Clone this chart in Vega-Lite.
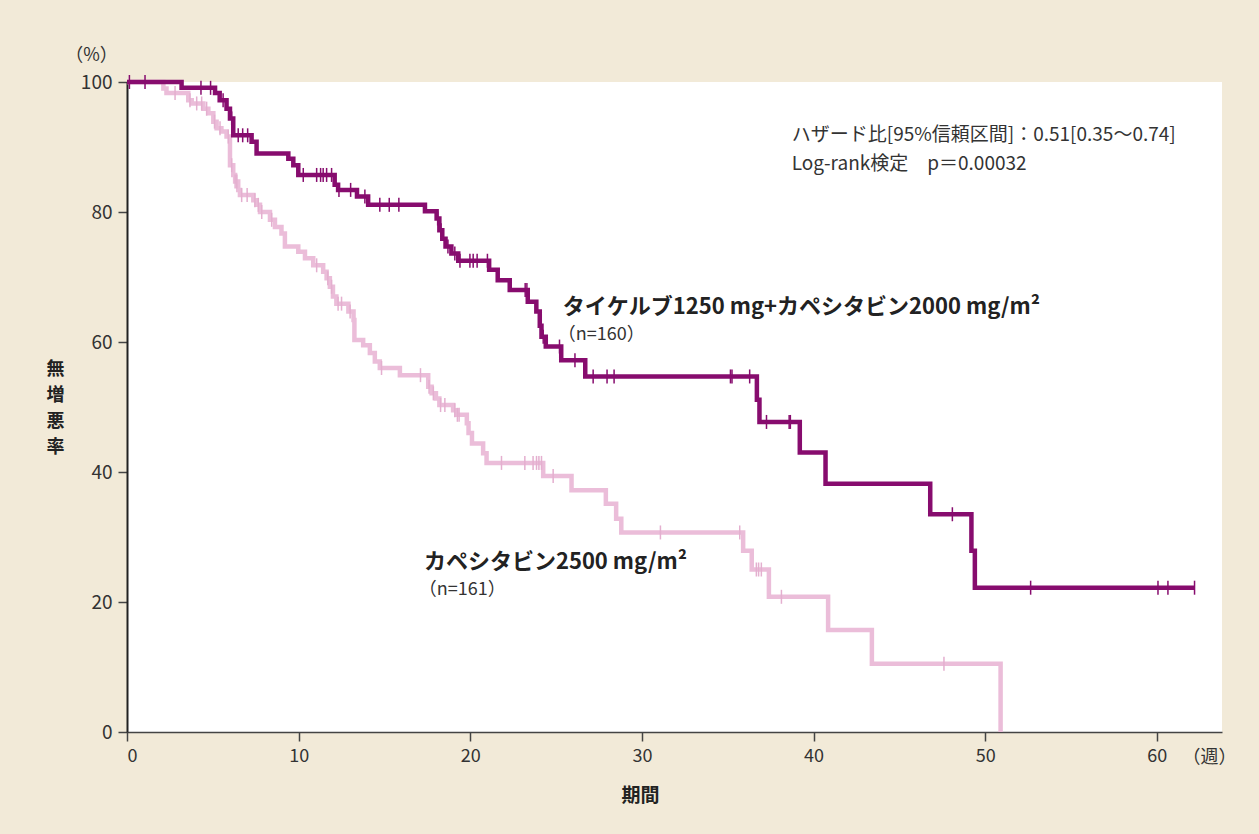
{
  "$schema": "https://vega.github.io/schema/vega-lite/v6.json",
  "width": 1095,
  "height": 650,
  "autosize": "none",
  "padding": {"left": 127, "top": 82, "right": 37, "bottom": 102},
  "background": "#f2ead8",
  "view": {"fill": "white", "stroke": null},
  "config": {"font": "Noto Sans CJK JP"},
  "datasets": {
    "curves": [
      {"arm": "lap", "t": 0, "s": 100}, {"arm": "lap", "t": 3.18, "s": 99.1}, {"arm": "lap", "t": 5.13, "s": 98.3},
      {"arm": "lap", "t": 5.4, "s": 97.2}, {"arm": "lap", "t": 5.8, "s": 95.9}, {"arm": "lap", "t": 6.0, "s": 94.4},
      {"arm": "lap", "t": 6.19, "s": 91.8}, {"arm": "lap", "t": 7.26, "s": 90.8}, {"arm": "lap", "t": 7.55, "s": 89.0},
      {"arm": "lap", "t": 9.4, "s": 88.2}, {"arm": "lap", "t": 9.69, "s": 87.2}, {"arm": "lap", "t": 9.98, "s": 85.7},
      {"arm": "lap", "t": 12.1, "s": 84.2}, {"arm": "lap", "t": 12.3, "s": 83.4}, {"arm": "lap", "t": 13.4, "s": 82.4},
      {"arm": "lap", "t": 14.05, "s": 81.1}, {"arm": "lap", "t": 17.36, "s": 80.1}, {"arm": "lap", "t": 18.04, "s": 79.0},
      {"arm": "lap", "t": 18.2, "s": 77.2}, {"arm": "lap", "t": 18.37, "s": 75.9}, {"arm": "lap", "t": 18.56, "s": 74.7},
      {"arm": "lap", "t": 18.9, "s": 73.6}, {"arm": "lap", "t": 19.3, "s": 72.5}, {"arm": "lap", "t": 21.1, "s": 71.1},
      {"arm": "lap", "t": 21.6, "s": 69.5}, {"arm": "lap", "t": 22.3, "s": 68.0}, {"arm": "lap", "t": 23.35, "s": 66.2},
      {"arm": "lap", "t": 23.85, "s": 64.7}, {"arm": "lap", "t": 24.05, "s": 62.5}, {"arm": "lap", "t": 24.15, "s": 60.8},
      {"arm": "lap", "t": 24.4, "s": 59.3}, {"arm": "lap", "t": 25.3, "s": 57.2}, {"arm": "lap", "t": 26.7, "s": 54.7},
      {"arm": "lap", "t": 36.7, "s": 51.1}, {"arm": "lap", "t": 36.85, "s": 47.7}, {"arm": "lap", "t": 39.2, "s": 43.0},
      {"arm": "lap", "t": 40.7, "s": 38.2}, {"arm": "lap", "t": 46.8, "s": 33.5}, {"arm": "lap", "t": 49.2, "s": 27.9},
      {"arm": "lap", "t": 49.4, "s": 22.2}, {"arm": "lap", "t": 62.2, "s": 22.2},
      {"arm": "cap", "t": 0, "s": 100}, {"arm": "cap", "t": 2.12, "s": 99.0}, {"arm": "cap", "t": 2.3, "s": 98.3},
      {"arm": "cap", "t": 3.57, "s": 97.2}, {"arm": "cap", "t": 3.77, "s": 96.7}, {"arm": "cap", "t": 4.45, "s": 95.9},
      {"arm": "cap", "t": 4.74, "s": 95.2}, {"arm": "cap", "t": 5.03, "s": 93.9}, {"arm": "cap", "t": 5.22, "s": 92.9},
      {"arm": "cap", "t": 5.5, "s": 92.4}, {"arm": "cap", "t": 5.8, "s": 91.6}, {"arm": "cap", "t": 6.0, "s": 87.2},
      {"arm": "cap", "t": 6.19, "s": 85.7}, {"arm": "cap", "t": 6.3, "s": 84.7}, {"arm": "cap", "t": 6.48, "s": 83.4},
      {"arm": "cap", "t": 6.58, "s": 82.6}, {"arm": "cap", "t": 7.36, "s": 81.8}, {"arm": "cap", "t": 7.55, "s": 81.1},
      {"arm": "cap", "t": 7.75, "s": 80.0}, {"arm": "cap", "t": 8.33, "s": 78.8}, {"arm": "cap", "t": 8.62, "s": 77.7},
      {"arm": "cap", "t": 9.0, "s": 76.7}, {"arm": "cap", "t": 9.2, "s": 74.7}, {"arm": "cap", "t": 9.98, "s": 73.9},
      {"arm": "cap", "t": 10.37, "s": 72.9}, {"arm": "cap", "t": 10.85, "s": 71.8}, {"arm": "cap", "t": 11.43, "s": 70.8},
      {"arm": "cap", "t": 11.63, "s": 69.8}, {"arm": "cap", "t": 11.82, "s": 68.5}, {"arm": "cap", "t": 12.0, "s": 67.0},
      {"arm": "cap", "t": 12.2, "s": 65.9}, {"arm": "cap", "t": 12.9, "s": 64.7}, {"arm": "cap", "t": 13.2, "s": 63.4},
      {"arm": "cap", "t": 13.25, "s": 60.3}, {"arm": "cap", "t": 13.76, "s": 59.5}, {"arm": "cap", "t": 14.15, "s": 58.3},
      {"arm": "cap", "t": 14.44, "s": 57.0}, {"arm": "cap", "t": 14.73, "s": 56.0}, {"arm": "cap", "t": 15.9, "s": 54.9},
      {"arm": "cap", "t": 17.55, "s": 53.1}, {"arm": "cap", "t": 17.75, "s": 52.1}, {"arm": "cap", "t": 18.0, "s": 51.3},
      {"arm": "cap", "t": 18.2, "s": 50.3}, {"arm": "cap", "t": 19.0, "s": 49.5}, {"arm": "cap", "t": 19.2, "s": 48.8},
      {"arm": "cap", "t": 19.8, "s": 47.5}, {"arm": "cap", "t": 19.9, "s": 46.0}, {"arm": "cap", "t": 20.1, "s": 44.4},
      {"arm": "cap", "t": 20.75, "s": 42.9}, {"arm": "cap", "t": 20.95, "s": 41.4}, {"arm": "cap", "t": 24.25, "s": 39.4},
      {"arm": "cap", "t": 25.9, "s": 37.2}, {"arm": "cap", "t": 27.9, "s": 35.1}, {"arm": "cap", "t": 28.5, "s": 32.8},
      {"arm": "cap", "t": 28.8, "s": 30.7}, {"arm": "cap", "t": 35.9, "s": 27.9}, {"arm": "cap", "t": 36.4, "s": 25.0},
      {"arm": "cap", "t": 37.4, "s": 20.8}, {"arm": "cap", "t": 40.85, "s": 15.7}, {"arm": "cap", "t": 43.4, "s": 10.5},
      {"arm": "cap", "t": 50.9, "s": 0}
    ],
    "censor": [
      {"arm": "cap", "t": 2.8, "s": 98.3}, {"arm": "cap", "t": 3.67, "s": 97.2}, {"arm": "cap", "t": 4.06, "s": 96.7},
      {"arm": "cap", "t": 4.35, "s": 96.7}, {"arm": "cap", "t": 4.64, "s": 95.9}, {"arm": "cap", "t": 5.1, "s": 93.9},
      {"arm": "cap", "t": 5.42, "s": 92.9}, {"arm": "cap", "t": 5.9, "s": 91.6}, {"arm": "cap", "t": 6.1, "s": 87.2},
      {"arm": "cap", "t": 6.3, "s": 84.7}, {"arm": "cap", "t": 6.4, "s": 84.7}, {"arm": "cap", "t": 6.68, "s": 82.6},
      {"arm": "cap", "t": 7.0, "s": 82.6}, {"arm": "cap", "t": 7.45, "s": 81.8}, {"arm": "cap", "t": 7.65, "s": 81.1},
      {"arm": "cap", "t": 7.85, "s": 80.0}, {"arm": "cap", "t": 8.43, "s": 78.8}, {"arm": "cap", "t": 11.05, "s": 71.8},
      {"arm": "cap", "t": 11.7, "s": 69.8}, {"arm": "cap", "t": 11.92, "s": 68.5}, {"arm": "cap", "t": 12.3, "s": 65.9},
      {"arm": "cap", "t": 12.5, "s": 65.9}, {"arm": "cap", "t": 13.0, "s": 64.7}, {"arm": "cap", "t": 14.83, "s": 56.0},
      {"arm": "cap", "t": 17.1, "s": 54.9}, {"arm": "cap", "t": 17.6, "s": 53.1}, {"arm": "cap", "t": 17.85, "s": 52.1},
      {"arm": "cap", "t": 18.27, "s": 50.3}, {"arm": "cap", "t": 18.52, "s": 50.3}, {"arm": "cap", "t": 19.1, "s": 49.5},
      {"arm": "cap", "t": 19.25, "s": 48.8}, {"arm": "cap", "t": 19.35, "s": 48.8}, {"arm": "cap", "t": 21.82, "s": 41.4},
      {"arm": "cap", "t": 23.18, "s": 41.4}, {"arm": "cap", "t": 23.66, "s": 41.4}, {"arm": "cap", "t": 23.86, "s": 41.4},
      {"arm": "cap", "t": 24.0, "s": 41.4}, {"arm": "cap", "t": 24.15, "s": 41.4}, {"arm": "cap", "t": 24.83, "s": 39.4},
      {"arm": "cap", "t": 31.08, "s": 30.7}, {"arm": "cap", "t": 35.7, "s": 30.7}, {"arm": "cap", "t": 36.67, "s": 25.0},
      {"arm": "cap", "t": 36.8, "s": 25.0}, {"arm": "cap", "t": 36.96, "s": 25.0}, {"arm": "cap", "t": 38.13, "s": 20.8},
      {"arm": "cap", "t": 47.6, "s": 10.5},
      {"arm": "lap", "t": 0.14, "s": 100}, {"arm": "lap", "t": 1.05, "s": 100}, {"arm": "lap", "t": 4.31, "s": 99.1},
      {"arm": "lap", "t": 4.87, "s": 99.1}, {"arm": "lap", "t": 5.6, "s": 97.2}, {"arm": "lap", "t": 6.1, "s": 94.4},
      {"arm": "lap", "t": 6.48, "s": 91.8}, {"arm": "lap", "t": 6.74, "s": 91.8}, {"arm": "lap", "t": 7.03, "s": 91.8},
      {"arm": "lap", "t": 10.27, "s": 85.7}, {"arm": "lap", "t": 11.05, "s": 85.7}, {"arm": "lap", "t": 11.28, "s": 85.7},
      {"arm": "lap", "t": 11.43, "s": 85.7}, {"arm": "lap", "t": 11.63, "s": 85.7}, {"arm": "lap", "t": 11.92, "s": 85.7},
      {"arm": "lap", "t": 12.35, "s": 83.4}, {"arm": "lap", "t": 13.03, "s": 83.4}, {"arm": "lap", "t": 13.86, "s": 82.4},
      {"arm": "lap", "t": 14.73, "s": 81.1}, {"arm": "lap", "t": 15.28, "s": 81.1}, {"arm": "lap", "t": 15.84, "s": 81.1},
      {"arm": "lap", "t": 18.1, "s": 79.0}, {"arm": "lap", "t": 18.3, "s": 77.2}, {"arm": "lap", "t": 18.7, "s": 74.7},
      {"arm": "lap", "t": 19.1, "s": 73.6}, {"arm": "lap", "t": 19.4, "s": 72.5}, {"arm": "lap", "t": 19.98, "s": 72.5},
      {"arm": "lap", "t": 20.17, "s": 72.5}, {"arm": "lap", "t": 20.4, "s": 72.5}, {"arm": "lap", "t": 21.0, "s": 72.5},
      {"arm": "lap", "t": 23.2, "s": 68.0}, {"arm": "lap", "t": 23.3, "s": 68.0}, {"arm": "lap", "t": 24.25, "s": 60.8},
      {"arm": "lap", "t": 25.2, "s": 59.3}, {"arm": "lap", "t": 26.1, "s": 57.2}, {"arm": "lap", "t": 27.16, "s": 54.7},
      {"arm": "lap", "t": 27.97, "s": 54.7}, {"arm": "lap", "t": 28.38, "s": 54.7}, {"arm": "lap", "t": 35.16, "s": 54.7},
      {"arm": "lap", "t": 35.25, "s": 54.7}, {"arm": "lap", "t": 36.28, "s": 54.7}, {"arm": "lap", "t": 37.26, "s": 47.7},
      {"arm": "lap", "t": 38.58, "s": 47.7}, {"arm": "lap", "t": 38.65, "s": 47.7}, {"arm": "lap", "t": 48.09, "s": 33.5},
      {"arm": "lap", "t": 52.65, "s": 22.2}, {"arm": "lap", "t": 60.07, "s": 22.2}, {"arm": "lap", "t": 60.65, "s": 22.2},
      {"arm": "lap", "t": 62.2, "s": 22.2}
    ],
    "labels": [
      {"t": 25.39, "s": 65.4, "text": "タイケルブ1250 mg+カペシタビン2000 mg/m²", "kind": "bold"},
      {"t": 25.1, "s": 61.1, "text": "（n=160）", "kind": "small"},
      {"t": 17.3, "s": 26.15, "text": "カペシタビン2500 mg/m²", "kind": "bold"},
      {"t": 17.0, "s": 21.85, "text": "（n=161）", "kind": "small"},
      {"t": 38.73, "s": 91.8, "text": "ハザード比[95%信頼区間]：0.51[0.35〜0.74]", "kind": "plain"},
      {"t": 38.73, "s": 87.4, "text": "Log-rank検定　p＝0.00032", "kind": "plain"},
      {"t": -3.6, "s": 104.0, "text": "（%）", "kind": "small"},
      {"t": 61.5, "s": -4.0, "text": "（週）", "kind": "small"}
    ]
  },
  "encoding": {
    "x": {
      "field": "t", "type": "quantitative",
      "scale": {"domain": [0, 63.8], "nice": false, "zero": false},
      "axis": {
        "title": "期間", "values": [0, 10, 20, 30, 40, 50, 60], "grid": false,
        "tickSize": 9, "tickColor": "#444", "tickWidth": 1.5, "domainColor": "#444", "domainWidth": 1.5,
        "labelFontSize": 18, "labelColor": "#333", "labelPadding": 6,
        "titleFontSize": 19, "titleFontWeight": "bold", "titleColor": "#222",
        "titleX": 513, "titleY": 63, "titleBaseline": "middle"
      }
    },
    "y": {
      "field": "s", "type": "quantitative",
      "scale": {"domain": [0, 100], "nice": false},
      "axis": {
        "title": ["無", "増", "悪", "率"], "values": [0, 20, 40, 60, 80, 100], "grid": false,
        "tickSize": 9, "tickColor": "#444", "tickWidth": 1.5, "domainColor": "#222", "domainWidth": 2,
        "labelFontSize": 19, "labelColor": "#333", "labelPadding": 6,
        "titleFontSize": 18, "titleFontWeight": "bold", "titleColor": "#222", "titleAngle": 0,
        "titleAlign": "center", "titleBaseline": "middle", "titleLineHeight": 26,
        "titleX": -72, "titleY": 287
      }
    }
  },
  "layer": [
    {
      "data": {"name": "curves"},
      "transform": [{"filter": "datum.arm === 'cap'"}],
      "mark": {"type": "line", "interpolate": "step-after", "color": "#ebbdd9", "strokeWidth": 4.5, "strokeCap": "butt"}
    },
    {
      "data": {"name": "censor"},
      "transform": [{"filter": "datum.arm === 'cap'"}],
      "mark": {"type": "tick", "orient": "vertical", "size": 14, "thickness": 1.5, "color": "#e4afcf", "opacity": 1}
    },
    {
      "data": {"name": "curves"},
      "transform": [{"filter": "datum.arm === 'lap'"}],
      "mark": {"type": "line", "interpolate": "step-after", "color": "#870c6e", "strokeWidth": 4.5, "strokeCap": "butt"}
    },
    {
      "data": {"name": "censor"},
      "transform": [{"filter": "datum.arm === 'lap'"}],
      "mark": {"type": "tick", "orient": "vertical", "size": 14, "thickness": 1.5, "color": "#870c6e", "opacity": 1}
    },
    {
      "data": {"name": "labels"},
      "transform": [{"filter": "datum.kind === 'bold'"}],
      "mark": {"type": "text", "align": "left", "baseline": "middle", "fontSize": 22, "fontWeight": "bold", "color": "#222"},
      "encoding": {"text": {"field": "text"}}
    },
    {
      "data": {"name": "labels"},
      "transform": [{"filter": "datum.kind === 'plain'"}],
      "mark": {"type": "text", "align": "left", "baseline": "middle", "fontSize": 19, "color": "#333"},
      "encoding": {"text": {"field": "text"}}
    },
    {
      "data": {"name": "labels"},
      "transform": [{"filter": "datum.kind === 'small'"}],
      "mark": {"type": "text", "align": "left", "baseline": "middle", "fontSize": 18, "color": "#333"},
      "encoding": {"text": {"field": "text"}}
    }
  ]
}
